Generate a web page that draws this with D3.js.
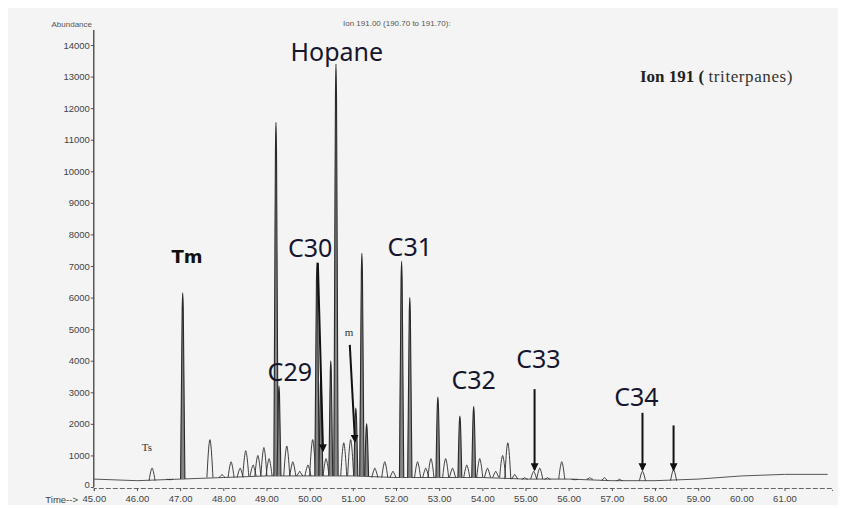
<!DOCTYPE html>
<html>
<head>
<meta charset="utf-8">
<script src="https://cdn.jsdelivr.net/npm/d3@7"></script>
<style>
  body { margin: 0; background: #fff; }
  svg { display: block; }
</style>
</head>
<body>
<svg id="chart" width="841" height="508"></svg>
<script>
// axis ticks
const xTicks = [45, 46, 47, 48, 49, 50, 51, 52, 53, 54, 55, 56, 57, 58, 59, 60, 61];
const yTicks = [0, 1000, 2000, 3000, 4000, 5000, 6000, 7000, 8000, 9000, 10000, 11000, 12000, 13000, 14000];

// peak apex retention times (min) and abundances
const peakTimes = [46.35, 46.76, 47.06, 47.69, 47.97, 48.18, 48.39, 48.52, 48.69, 48.80,
  48.94, 49.06, 49.22, 49.29, 49.47, 49.61, 49.77, 49.96, 50.07, 50.17,
  50.26, 50.38, 50.49, 50.61, 50.79, 50.95, 51.07, 51.21, 51.32, 51.51,
  51.74, 51.93, 52.13, 52.32, 52.50, 52.69, 52.81, 52.97, 53.15, 53.31,
  53.48, 53.64, 53.80, 53.94, 54.12, 54.31, 54.47, 54.59, 54.75, 54.98,
  55.19, 55.33, 55.51, 55.84, 56.14, 56.49, 56.83, 57.18, 57.71, 58.43];
const peakHeights = [600, 250, 6150, 1500, 400, 800, 600, 1150, 700, 1000,
  1250, 900, 11550, 3200, 1300, 800, 500, 700, 1500, 7100,
  3500, 900, 4000, 13400, 1400, 1500, 2500, 7400, 2000, 600,
  800, 500, 7150, 6000, 800, 600, 900, 2850, 900, 600,
  2250, 700, 2550, 900, 600, 500, 1000, 1400, 400, 300,
  500, 600, 300, 800, 250, 300, 300, 250, 500, 550];

// baseline of the trace
const baseTimes = [45, 46, 47, 48, 49, 50, 51, 52, 53, 54, 55, 56, 57, 58, 59, 60, 61, 62];
const baseValues = [250, 200, 250, 300, 350, 350, 350, 300, 300, 300, 250, 250, 200, 200, 250, 350, 400, 400];

// compound labels
const labelNames = ['Hopane', 'C30', 'C29', 'C31', 'C32', 'C33', 'C34'];
const labelTimes = [50.63, 50.01, 49.54, 52.32, 53.80, 55.30, 57.57];
const labelValues = [13500, 7290, 3360, 7320, 3100, 3770, 2570];

// arrows pointing at peaks
const arrowStartTimes = [50.19, 50.93, 55.21, 57.71, 58.43];
const arrowStartValues = [7100, 4500, 3100, 2350, 1950];
const arrowEndTimes = [50.31, 51.05, 55.21, 57.71, 58.43];
const arrowEndValues = [1150, 1450, 550, 550, 550];

const svg = d3.select('#chart');

// scanned sheet
svg.append('rect')
  .attr('x', 8).attr('y', 8)
  .attr('width', 830).attr('height', 497)
  .attr('fill', '#f4f4f4');

const xScale = d3.scaleLinear().domain([45, 62.1]).range([93.8, 832]);
const yScale = d3.scaleLinear().domain([0, 14000]).range([487, 45]);

const baseAt = (t) => {
  const i = d3.bisector((d) => d).center(baseTimes, t);
  return baseValues[i];
};

// y axis
const yAxis = d3.axisLeft(yScale).tickValues(yTicks).tickSize(3).tickFormat(d3.format('d'));
const gy = svg.append('g')
  .attr('transform', 'translate(' + xScale(45) + ',0)')
  .call(yAxis);
gy.select('.domain').remove();
gy.append('line')
  .attr('x1', 0).attr('x2', 0)
  .attr('y1', 30).attr('y2', yScale(0))
  .attr('stroke', '#333').attr('stroke-width', 1.2);
gy.selectAll('.tick line').attr('stroke', '#555');
gy.selectAll('.tick text')
  .attr('fill', '#444')
  .attr('font-family', 'Liberation Sans, Arial, sans-serif')
  .attr('font-size', 9.5)
  .attr('x', -4);
// lift the zero label clear of the time labels
gy.selectAll('.tick text').filter((d) => d === 0).attr('dy', '0.1em');

// x axis
const xAxis = d3.axisBottom(xScale).tickValues(xTicks).tickSize(3).tickFormat(d3.format('.2f'));
const gx = svg.append('g')
  .attr('transform', 'translate(0,' + (yScale(0) + 1) + ')')
  .call(xAxis);
gx.select('.domain')
  .attr('stroke', '#666')
  .attr('stroke-dasharray', '5 2');
gx.selectAll('.tick line').attr('stroke', '#555');
gx.selectAll('.tick text')
  .attr('fill', '#444')
  .attr('font-family', 'Liberation Sans, Arial, sans-serif')
  .attr('font-size', 9.5)
  .attr('dy', '0.85em');

svg.append('text')
  .attr('x', 78).attr('y', 503)
  .attr('text-anchor', 'end')
  .attr('fill', '#444')
  .attr('font-family', 'Liberation Sans, Arial, sans-serif')
  .attr('font-size', 9.5)
  .text('Time-->');

svg.append('text')
  .attr('x', 92).attr('y', 27)
  .attr('text-anchor', 'end')
  .attr('fill', '#555')
  .attr('font-family', 'Liberation Sans, Arial, sans-serif')
  .attr('font-size', 8)
  .text('Abundance');

svg.append('text')
  .attr('x', 343).attr('y', 26)
  .attr('fill', '#555')
  .attr('font-family', 'Liberation Sans, Arial, sans-serif')
  .attr('font-size', 8)
  .text('Ion 191.00 (190.70 to 191.70):');

// baseline
const line = d3.line()
  .x((d, i) => xScale(baseTimes[i]))
  .y((d) => yScale(d));
svg.append('path')
  .attr('d', line(baseValues))
  .attr('fill', 'none')
  .attr('stroke', '#555')
  .attr('stroke-width', 1);

// peaks
const peaks = svg.append('g');
peakTimes.forEach((t, i) => {
  const h = peakHeights[i];
  const w = h > 5000 ? 0.05 : (h > 1800 ? 0.045 : 0.07);
  const b = baseAt(t);
  const pts = [[t - w, b], [t - w * 0.25, h * 0.92], [t, h], [t + w * 0.25, h * 0.92], [t + w, b]];
  peaks.append('path')
    .attr('d', d3.line().x((p) => xScale(p[0])).y((p) => yScale(p[1])).curve(d3.curveMonotoneX)(pts))
    .attr('fill', h > 1800 ? '#858585' : 'none')
    .attr('stroke', '#2a2a2a')
    .attr('stroke-width', h > 1800 ? 1.1 : 0.9);
});

// arrows
svg.append('defs').append('marker')
  .attr('id', 'head')
  .attr('viewBox', '0 0 10 10')
  .attr('refX', 8).attr('refY', 5)
  .attr('markerWidth', 4).attr('markerHeight', 4)
  .attr('orient', 'auto')
  .append('path')
  .attr('d', 'M0,0L10,5L0,10z')
  .attr('fill', '#111');

arrowStartTimes.forEach((t, i) => {
  svg.append('line')
    .attr('x1', xScale(t)).attr('y1', yScale(arrowStartValues[i]))
    .attr('x2', xScale(arrowEndTimes[i])).attr('y2', yScale(arrowEndValues[i]))
    .attr('stroke', '#111')
    .attr('stroke-width', 2)
    .attr('marker-end', 'url(#head)');
});

// compound labels
labelNames.forEach((name, i) => {
  svg.append('text')
    .attr('x', xScale(labelTimes[i]))
    .attr('y', yScale(labelValues[i]))
    .attr('text-anchor', 'middle')
    .attr('fill', '#16162e')
    .attr('font-family', 'Noto Sans, sans-serif')
    .attr('font-size', 25)
    .text(name);
});

svg.append('text')
  .attr('x', xScale(47.16)).attr('y', yScale(7100))
  .attr('text-anchor', 'middle')
  .attr('fill', '#111')
  .attr('font-family', 'DejaVu Sans, sans-serif')
  .attr('font-weight', 'bold')
  .attr('font-size', 18)
  .text('Tm');

svg.append('text')
  .attr('x', xScale(46.23)).attr('y', yScale(1140))
  .attr('text-anchor', 'middle')
  .attr('fill', '#333')
  .attr('font-family', 'Liberation Serif, serif')
  .attr('font-size', 11)
  .text('Ts');

svg.append('text')
  .attr('x', xScale(50.91)).attr('y', yScale(4780))
  .attr('text-anchor', 'middle')
  .attr('fill', '#333')
  .attr('font-family', 'Liberation Serif, serif')
  .attr('font-size', 11)
  .text('m');

// panel title
const title = svg.append('text')
  .attr('x', 640).attr('y', 82)
  .attr('fill', '#222')
  .attr('font-family', 'Liberation Serif, serif')
  .attr('font-size', 17);
title.append('tspan').attr('font-weight', 'bold').text('Ion 191 ( ');
title.append('tspan').attr('letter-spacing', 0.6).attr('fill', '#333').text('triterpanes)');
</script>
</body>
</html>
